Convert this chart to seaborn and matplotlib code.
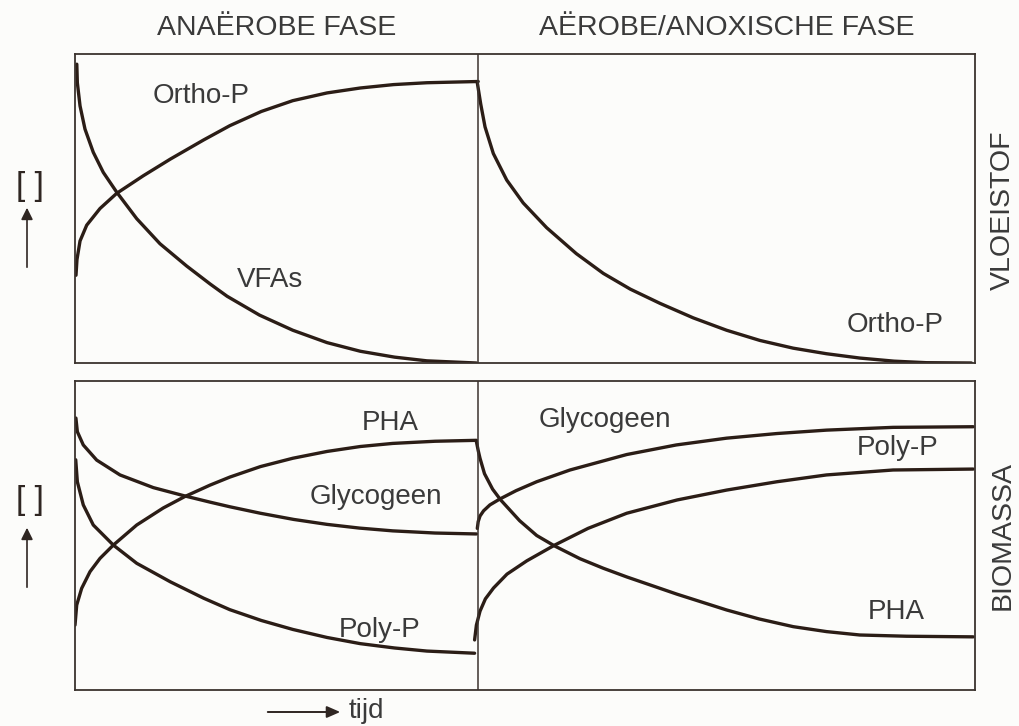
import matplotlib
matplotlib.use("Agg")
import matplotlib.pyplot as plt
import seaborn as sns

sns.set_theme(style="white")
plt.rcParams['font.family'] = ['Liberation Sans', 'DejaVu Sans']

# ---------------- data (time 0-100, concentration 0-100 per panel) ----------------
phase_titles = ["ANAËROBE FASE", "AËROBE/ANOXISCHE FASE"]
panel_names = ["VLOEISTOF", "BIOMASSA"]
phase_boundary = 44.8

# liquid phase, anaerobic
orthoP1_t = [0.11, 0.22, 0.56, 1.3, 2.78, 4.63, 7.59, 10.6, 14.3, 17.2, 20.7, 24.2, 28.0, 31.7, 35.4, 39.1, 44.8]
orthoP1_v = [28.4, 33.5, 39.5, 44.6, 50.0, 54.9, 60.6, 66.0, 72.2, 76.8, 81.4, 84.9, 87.4, 89.0, 90.1, 90.7, 91.1]
vfa_t = [0.2, 0.26, 0.56, 1.11, 2.03, 3.14, 4.63, 6.86, 9.44, 12.4, 15.0, 16.9, 20.5, 24.2, 28.0, 31.7, 35.5, 39.1, 44.6]
vfa_v = [96.7, 90.7, 83.2, 75.7, 68.2, 61.7, 55.3, 46.7, 38.6, 31.4, 25.6, 21.6, 15.5, 10.6, 6.6, 3.8, 1.9, 0.7, 0.0]
# liquid phase, aerobic
orthoP2_t = [44.7, 45.08, 45.56, 46.48, 47.97, 49.8, 52.4, 55.7, 58.7, 61.7, 65.0, 68.7, 72.4, 76.1, 79.8, 83.5, 87.2, 91.0, 94.6, 99.6]
orthoP2_v = [90.7, 83.8, 76.4, 67.8, 59.2, 51.8, 43.8, 35.4, 29.0, 23.9, 19.3, 14.6, 10.6, 7.3, 4.8, 3.0, 1.6, 0.6, 0.1, 0.0]

# biomass, anaerobic
glyc1_t = [0.1, 0.26, 0.92, 2.41, 5.0, 8.7, 12.2, 15.0, 17.2, 20.6, 24.3, 28.0, 31.6, 35.3, 40.0, 44.6]
glyc1_v = [88.0, 83.6, 79.3, 74.4, 69.6, 65.5, 62.8, 60.8, 59.3, 57.2, 55.2, 53.6, 52.4, 51.5, 50.8, 50.5]
polyP1_t = [0.08, 0.26, 0.92, 2.03, 4.26, 6.86, 10.6, 14.3, 17.2, 20.7, 24.2, 28.0, 31.7, 35.5, 39.1, 44.4]
polyP1_v = [74.5, 67.4, 59.9, 53.4, 46.9, 41.0, 35.0, 29.7, 26.0, 22.5, 19.6, 17.0, 15.0, 13.6, 12.6, 11.9]
pha1_t = [0.0, 0.19, 0.74, 1.67, 2.78, 4.26, 6.86, 9.8, 12.2, 15.0, 17.2, 20.6, 24.2, 28.0, 31.7, 35.3, 40.0, 44.6]
pha1_v = [21.0, 27.5, 32.9, 38.3, 42.6, 46.9, 53.4, 58.9, 62.6, 66.3, 68.9, 72.3, 75.0, 77.2, 78.8, 79.8, 80.5, 80.8]
# biomass, aerobic
glyc2_t = [44.7, 44.8, 45.0, 45.4, 46.1, 47.2, 49.0, 51.3, 55.0, 61.3, 66.8, 72.4, 78.0, 83.5, 90.9, 99.8]
glyc2_v = [52.3, 54.5, 56.3, 58.0, 59.9, 61.8, 64.5, 67.4, 71.2, 76.2, 79.3, 81.5, 83.0, 84.1, 85.0, 85.2]
pha2_t = [44.6, 44.8, 45.0, 45.5, 46.4, 47.3, 49.4, 51.3, 53.3, 56.1, 58.7, 61.3, 66.9, 72.4, 76.0, 79.8, 83.5, 87.2, 92.4, 99.8]
pha2_v = [80.4, 77.5, 75.0, 70.0, 65.0, 61.5, 54.8, 50.0, 46.6, 42.5, 39.4, 36.6, 31.0, 25.9, 23.0, 20.5, 18.9, 17.8, 17.4, 17.2]
polyP2_t = [44.4, 44.6, 45.0, 45.6, 46.5, 48.0, 50.2, 53.3, 57.0, 61.3, 66.9, 72.4, 78.0, 83.5, 90.9, 99.8]
polyP2_v = [16.2, 21.0, 25.5, 29.5, 33.0, 37.5, 41.8, 46.9, 52.3, 57.2, 61.5, 64.7, 67.4, 69.6, 71.2, 71.5]

# curve labels: (text, t, value)
top_labels = [("Ortho-P", 14.0, 86.5), ("VFAs", 21.7, 26.8), ("Ortho-P", 91.1, 12.3)]
bottom_labels = [("PHA", 35.0, 86.4), ("Glycogeen", 33.4, 62.5), ("Poly-P", 33.9, 19.4),
                 ("Glycogeen", 58.9, 87.4), ("Poly-P", 91.4, 78.3), ("PHA", 91.2, 25.2)]

# ---------------- figure ----------------
W, H = 1020, 726
bg = "#fcfcfa"
line_c = "#2b1d16"
frame_c = "#3b332e"
text_c = "#3a3a3a"
label_fs = 20

fig = plt.figure(figsize=(W / 100, H / 100), dpi=100, facecolor=bg)

def rect(x0, y0, x1, y1):
    return [x0 / W, 1 - y1 / H, (x1 - x0) / W, (y1 - y0) / H]

ax_top = fig.add_axes(rect(75, 54, 975, 363))
ax_bot = fig.add_axes(rect(75, 381, 975, 690))

top_curves = [(orthoP1_t, orthoP1_v), (vfa_t, vfa_v), (orthoP2_t, orthoP2_v)]
bot_curves = [(glyc1_t, glyc1_v), (polyP1_t, polyP1_v), (pha1_t, pha1_v),
              (glyc2_t, glyc2_v), (pha2_t, pha2_v), (polyP2_t, polyP2_v)]

for ax, curves, labels in [(ax_top, top_curves, top_labels), (ax_bot, bot_curves, bottom_labels)]:
    ax.set_facecolor(bg)
    for t, v in curves:
        sns.lineplot(x=t, y=v, ax=ax, color=line_c, linewidth=2.4, sort=False,
                     estimator=None)
    for txt, t, v in labels:
        ax.text(t, v, txt, ha="center", va="center", fontsize=label_fs, color=text_c)
    ax.axvline(phase_boundary, color=frame_c, linewidth=1.1)
    ax.set_xlim(0, 100)
    ax.set_ylim(0, 100)
    ax.set_xticks([])
    ax.set_yticks([])
    ax.set_xlabel("")
    ax.set_ylabel("")
    for s in ax.spines.values():
        s.set_visible(True)
        s.set_color(frame_c)
        s.set_linewidth(1.3)

# phase titles
fig.text(277 / W, 1 - 28 / H, phase_titles[0], ha="center", va="center", fontsize=20.5, color=text_c)
fig.text(727 / W, 1 - 28 / H, phase_titles[1], ha="center", va="center", fontsize=20.5, color=text_c)

# panel names on the right
fig.text(1003 / W, 1 - 210 / H, panel_names[0], ha="center", va="center", rotation=90,
         fontsize=20.5, color=text_c)
fig.text(1003 / W, 1 - 535 / H, panel_names[1], ha="center", va="center", rotation=90,
         fontsize=20.5, color=text_c)

# concentration markers with arrows on the left
for yb, ya0, ya1 in [(186, 270, 205), (500, 590, 525)]:
    fig.text(30 / W, 1 - yb / H, "[ ]", ha="center", va="center", fontsize=24,
             color="#2f2622")
    fig.add_artist(matplotlib.patches.FancyArrowPatch(
        (27 / W, 1 - ya0 / H), (27 / W, 1 - ya1 / H), transform=fig.transFigure,
        arrowstyle="-|>,head_length=7,head_width=3.5", color="#2f2622", linewidth=1.2))

# time arrow at the bottom
fig.add_artist(matplotlib.patches.FancyArrowPatch(
    (265 / W, 1 - 712 / H), (343 / W, 1 - 712 / H), transform=fig.transFigure,
    arrowstyle="-|>,head_length=8,head_width=3.5", color="#2f2622", linewidth=1.4))
fig.text(349 / W, 1 - 711 / H, "tijd", ha="left", va="center", fontsize=label_fs, color=text_c)

fig.savefig("out.png", dpi=100, facecolor=bg)
